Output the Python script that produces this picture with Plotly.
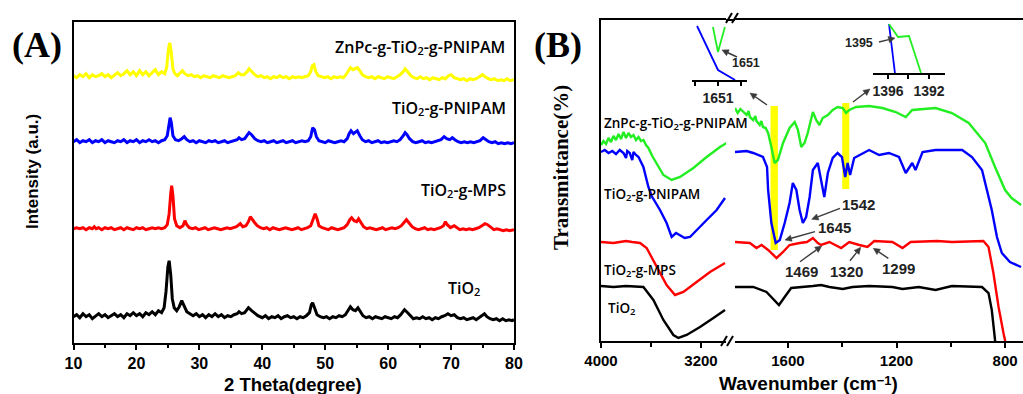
import math
import plotly.graph_objects as go

W, H = 1023, 394
def px(x): return x / W
def py(y): return 1 - y / H

# ---------------- (A) XRD data: 2-theta / intensity above each pattern's baseline ----------------
zn_xrd = [(10.0,1),(10.5,-1),(11.0,2),(11.5,0),(12.0,3),(12.5,-1),(13.0,2),(13.5,0),(14.0,1),(14.5,3),(15.0,0),
          (15.5,2),(16.0,-1),(16.5,2),(17.0,4),(17.5,1),(18.0,3),(18.5,6),(19.0,2),(19.5,5),(20.0,1),(20.5,6),
          (21.0,2),(21.5,5),(22.0,1),(22.5,4),(23.0,7),(23.5,2),(24.0,5),(24.5,3),(24.8,9),(25.1,28),(25.3,34),
          (25.5,26),(25.8,8),(26.1,3),(26.5,1),(27.0,4),(27.3,6),(27.7,3),(28.2,1),(28.7,2),(29.2,0),(29.7,1),
          (30.2,-1),(30.7,1),(31.2,0),(31.7,-1),(32.2,1),(32.7,0),(33.2,-1),(33.7,1),(34.2,0),(34.7,-1),(35.2,0),
          (35.7,1),(36.2,4),(36.6,2),(37.1,2),(37.6,5),(37.9,8),(38.3,5),(38.8,2),(39.3,0),(39.8,1),(40.3,-1),
          (40.8,0),(41.3,-2),(41.8,0),(42.3,-1),(42.8,1),(43.3,-1),(43.8,0),(44.3,-2),(44.8,0),(45.3,-1),(45.8,0),
          (46.3,-1),(46.8,0),(47.3,1),(47.7,5),(47.95,11),(48.2,12),(48.5,5),(48.9,1),(49.4,0),(49.9,-1),(50.4,0),
          (50.9,-2),(51.4,0),(51.9,-1),(52.4,0),(52.9,-1),(53.3,2),(53.7,6),(54.0,9),(54.4,7),(54.8,8),(55.1,9),
          (55.5,6),(55.9,2),(56.4,0),(56.9,-1),(57.4,0),(57.9,-2),(58.4,0),(58.9,-1),(59.4,-2),(59.9,0),(60.4,-1),
          (60.9,-2),(61.4,0),(61.9,2),(62.4,5),(62.7,8),(63.1,5),(63.6,1),(64.1,-1),(64.6,-2),(65.1,0),(65.6,-2),
          (66.1,-1),(66.6,-3),(67.1,-1),(67.6,-2),(68.1,-3),(68.6,-1),(69.1,-2),(69.6,1),(70.0,2),(70.5,-1),
          (71.0,-2),(71.5,-3),(72.0,-2),(72.5,-4),(73.0,-2),(73.5,-3),(74.0,-2),(74.5,0),(75.0,2),(75.4,0),
          (75.9,-2),(76.4,-3),(76.9,-2),(77.4,-4),(77.9,-3),(78.4,-4),(78.9,-2),(79.4,-4),(80.0,-3)]

pn_xrd = [(10.0,0),(10.5,2),(11.0,-1),(11.5,1),(12.0,0),(12.5,2),(13.0,-1),(13.5,1),(14.0,0),(14.5,2),(15.0,-1),
          (15.5,1),(16.0,0),(16.5,-1),(17.0,1),(17.5,0),(18.0,2),(18.5,-1),(19.0,1),(19.5,0),(20.0,2),(20.5,-1),
          (21.0,1),(21.5,0),(22.0,2),(22.5,0),(23.0,1),(23.5,-1),(24.0,1),(24.5,2),(24.9,6),(25.15,18),(25.35,24),
          (25.55,19),(25.8,6),(26.2,2),(26.7,1),(27.2,3),(27.6,5),(28.0,2),(28.5,0),(29.0,1),(29.5,-1),(30.0,1),
          (30.5,0),(31.0,-1),(31.5,1),(32.0,0),(32.5,1),(33.0,-1),(33.5,0),(34.0,1),(34.5,-1),(35.0,0),(35.5,1),
          (36.0,2),(36.3,4),(36.7,2),(37.2,3),(37.6,6),(37.9,9),(38.3,7),(38.8,3),(39.3,1),(39.8,0),(40.3,1),
          (40.8,-1),(41.3,0),(41.8,1),(42.3,-1),(42.8,0),(43.3,1),(43.8,-1),(44.3,0),(44.8,1),(45.3,-1),(45.8,0),
          (46.3,1),(46.8,0),(47.3,1),(47.7,5),(48.0,14),(48.3,12),(48.6,5),(49.0,1),(49.5,0),(50.0,-1),(50.5,1),
          (51.0,0),(51.5,-1),(52.0,0),(52.5,1),(53.0,0),(53.5,3),(53.8,8),(54.1,11),(54.5,8),(54.8,10),(55.1,11),
          (55.5,6),(55.9,2),(56.4,0),(56.9,1),(57.4,-1),(57.9,0),(58.4,1),(58.9,-1),(59.4,0),(59.9,-1),(60.4,0),
          (60.9,1),(61.4,0),(61.9,2),(62.4,6),(62.7,9),(63.0,7),(63.4,3),(63.9,0),(64.4,-1),(64.9,0),(65.4,1),
          (65.9,-1),(66.4,0),(66.9,-1),(67.4,0),(67.9,1),(68.4,2),(68.9,5),(69.3,3),(69.8,2),(70.2,4),(70.6,2),
          (71.1,0),(71.6,-1),(72.1,0),(72.6,-1),(73.1,0),(73.6,-1),(74.1,0),(74.6,1),(75.1,4),(75.5,2),(76.0,0),
          (76.5,-1),(77.0,0),(77.5,-2),(78.0,-1),(78.5,-2),(79.0,-1),(79.5,-2),(80.0,-1)]

mps_xrd = [(10.0,0),(10.5,1),(11.0,0),(11.5,1),(12.0,-1),(12.5,1),(13.0,0),(13.3,2),(13.6,0),(14.0,1),(14.5,-1),
           (15.0,1),(15.5,0),(16.0,1),(16.5,-1),(17.0,0),(17.5,1),(18.0,-1),(18.5,1),(19.0,0),(19.5,-1),(20.0,1),
           (20.5,0),(21.0,1),(21.5,-1),(22.0,0),(22.5,1),(23.0,0),(23.5,1),(24.0,0),(24.5,1),(24.9,4),(25.2,15),
           (25.45,35),(25.6,43),(25.8,33),(26.05,10),(26.4,3),(26.9,1),(27.4,3),(27.7,8),(28.0,4),(28.4,1),(28.9,0),
           (29.4,1),(29.9,-1),(30.4,0),(30.9,1),(31.4,-1),(31.9,0),(32.4,1),(32.9,0),(33.4,-1),(33.9,0),(34.4,1),
           (34.9,0),(35.4,1),(35.9,2),(36.5,5),(36.9,2),(37.4,3),(37.8,7),(38.1,12),(38.4,9),(38.8,6),(39.2,3),
           (39.7,1),(40.2,0),(40.7,1),(41.2,-1),(41.7,1),(42.2,0),(42.7,-1),(43.2,0),(43.7,1),(44.2,0),(44.7,-1),
           (45.2,0),(45.7,1),(46.2,-1),(46.7,0),(47.2,1),(47.7,3),(48.1,10),(48.4,15),(48.7,10),(49.0,3),(49.5,1),
           (50.0,0),(50.5,-1),(51.0,1),(51.5,0),(52.0,-1),(52.5,0),(53.0,1),(53.5,4),(53.9,9),(54.2,11),(54.6,8),
           (55.0,7),(55.3,10),(55.7,6),(56.1,2),(56.6,0),(57.1,1),(57.6,0),(58.1,-1),(58.6,0),(59.1,1),(59.6,-1),
           (60.1,0),(60.6,1),(61.1,0),(61.6,1),(62.1,3),(62.6,7),(62.9,9),(63.3,6),(63.8,2),(64.3,0),(64.8,-1),
           (65.3,0),(65.8,1),(66.3,-1),(66.8,0),(67.3,-1),(67.8,0),(68.3,1),(68.8,3),(69.1,7),(69.4,4),(69.9,1),
           (70.5,3),(70.9,1),(71.4,-1),(71.9,0),(72.4,-1),(72.9,0),(73.4,-1),(73.9,0),(74.4,1),(74.9,3),(75.4,5),
           (75.8,4),(76.3,1),(76.8,-1),(77.3,0),(77.8,-1),(78.3,-2),(78.8,-1),(79.3,-2),(80.0,-1)]

tio2_xrd = [(10.0,0),(10.5,2),(11.0,-1),(11.5,3),(12.0,0),(12.5,2),(13.0,-2),(13.5,1),(14.0,3),(14.5,0),(15.0,2),
            (15.5,-1),(16.0,1),(16.5,3),(17.0,0),(17.5,2),(18.0,-1),(18.5,3),(19.0,1),(19.5,4),(20.0,1),(20.5,3),
            (21.0,0),(21.5,4),(22.0,2),(22.5,5),(23.0,2),(23.5,6),(24.0,4),(24.4,9),(24.7,25),(25.0,50),(25.2,56),
            (25.45,42),(25.7,18),(26.0,9),(26.4,6),(26.8,10),(27.2,16),(27.6,11),(28.0,5),(28.5,3),(29.0,1),(29.5,3),
            (30.0,0),(30.5,2),(31.0,-1),(31.5,2),(32.0,0),(32.5,3),(33.0,0),(33.5,2),(34.0,-1),(34.5,1),(35.0,0),
            (35.5,2),(36.0,3),(36.3,5),(36.7,3),(37.2,4),(37.8,9),(38.3,6),(38.8,3),(39.3,1),(40.0,-1),(40.5,1),
            (41.0,-2),(41.5,0),(42.0,-1),(42.5,1),(43.0,-2),(43.5,0),(44.0,1),(44.5,-1),(45.0,0),(45.5,-2),(46.0,0),
            (46.5,-1),(47.0,1),(47.5,4),(47.8,12),(48.0,14),(48.3,9),(48.7,2),(49.2,0),(49.7,-1),(50.2,0),(50.7,-2),
            (51.2,0),(51.7,-1),(52.2,1),(52.7,0),(53.2,2),(53.6,6),(54.0,10),(54.4,7),(54.8,6),(55.2,9),(55.6,5),
            (56.0,1),(56.5,-1),(57.0,0),(57.5,-2),(58.0,0),(58.5,-1),(59.0,-2),(59.5,0),(60.0,-1),(60.5,-2),(61.0,0),
            (61.5,-1),(62.0,2),(62.6,7),(63.1,4),(63.6,0),(64.0,-2),(64.5,-1),(65.0,-2),(65.5,0),(66.0,-2),(66.5,-1),
            (67.0,-3),(67.5,-1),(68.0,-2),(68.5,0),(69.0,1),(69.5,3),(70.0,1),(70.5,2),(71.0,-1),(71.5,-2),(72.0,-1),
            (72.5,-3),(73.0,-2),(73.5,-1),(74.0,-3),(74.5,-1),(75.0,1),(75.3,3),(75.7,0),(76.2,-2),(76.7,-3),
            (77.2,-2),(77.7,-4),(78.2,-2),(78.7,-4),(79.2,-3),(79.7,-4),(80.0,-3)]

xrd_offsets = {"zn": 266, "pn": 201, "mps": 114, "tio2": 26}

# ---------------- (B) FTIR data: wavenumber / transmittance (a.u.) ----------------
zn_ftir_hi = [(4000,196),(3980,200),(3960,197),(3940,203),(3920,199),(3900,205),(3880,201),(3860,207),(3840,202),
              (3820,209),(3800,203),(3780,208),(3760,204),(3740,206),(3720,201),(3700,204),(3680,200),(3660,201),
              (3640,196),(3621,193),(3590,185),(3555,178),(3501,166),(3435,161),(3368,164),(3261,173),(3155,184),
              (3048,194),(2995,198)]
zn_ftir_lo = [(1795,233),(1785,228),(1775,232),(1765,229),(1752,226),(1745,230),(1740,224),(1728,221),(1720,225),
              (1716,220),(1704,216),(1698,220),(1692,214),(1682,213),(1673,208),(1661,194),(1649,178),(1637,181),
              (1618,198),(1594,213),(1575,219),(1563,211),(1551,194),(1539,198),(1527,208),(1508,229),(1496,221),
              (1484,216),(1472,223),(1453,226),(1435,231),(1417,234),(1398,233),(1386,228),(1374,231),(1349,234),
              (1301,235),(1252,233),(1203,229),(1166,224),(1142,231),(1056,233),(996,228),(934,218),(873,198),
              (837,174),(800,151),(776,143),(741,136)]

pn_ftir_hi = [(4000,189),(3970,191),(3940,188),(3910,190),(3880,187),(3850,191),(3820,188),(3800,183),(3790,190),
              (3770,188),(3750,181),(3740,189),(3720,186),(3700,184),(3661,174),(3621,154),(3595,145),(3528,131),
              (3475,118),(3435,104),(3400,108),(3368,106),(3330,103),(3288,104),(3235,111),(3155,121),(3075,131),
              (3008,143)]
pn_ftir_lo = [(1795,189),(1752,190),(1728,188),(1692,184),(1677,174),(1673,151),(1661,118),(1645,98),(1630,101),
              (1612,118),(1594,138),(1582,158),(1569,151),(1557,131),(1545,118),(1533,124),(1520,144),(1508,171),
              (1490,178),(1478,161),(1466,144),(1453,168),(1435,183),(1417,188),(1401,184),(1389,164),(1380,178),
              (1371,166),(1356,183),(1301,191),(1264,186),(1228,188),(1191,184),(1166,168),(1142,178),(1130,171),
              (1104,189),(1056,191),(958,191),(922,184),(885,171),(867,151),(849,131),(830,104),(812,88),(782,79),
              (741,74)]

mps_ftir_hi = [(4000,99),(3900,98),(3850,99),(3800,100),(3750,99),(3688,98),(3635,93),(3555,74),(3475,56),
               (3408,46),(3341,49),(3235,59),(3128,69),(3008,78)]
mps_ftir_lo = [(1795,99),(1740,98),(1716,93),(1697,96),(1673,91),(1642,83),(1618,89),(1594,96),(1557,98),(1530,99),
               (1508,103),(1490,98),(1478,96),(1447,99),(1404,93),(1374,99),(1337,96),(1307,94),(1282,100),
               (1215,99),(1178,93),(1148,99),(1050,100),(996,99),(880,100),(861,94),(843,68),(824,34),(806,8),(798,-2)]

tio2_ftir_hi = [(4000,55),(3900,54),(3800,55),(3661,54),(3581,41),(3501,21),(3421,6),(3381,3),(3315,6),(3208,14),
                (3101,23),(3008,31)]
tio2_ftir_lo = [(1795,54),(1728,54),(1679,49),(1649,41),(1633,36),(1612,44),(1588,53),(1508,55),(1478,56),
                (1447,54),(1398,52),(1362,54),(1301,55),(1215,54),(1178,52),(1118,54),(1056,51),(996,55),(885,54),
                (861,48),(849,31),(837,1),(834,-5)]

# highlighted bands (wavenumber range, transmittance range)
bands = [((1664, 1637), (91, 235)), ((1400, 1374), (152, 238))]

# insets (zoomed views)
inset1_pn = [(1651.91,54),(1651.0,10),(1650.26,0)]
inset1_zn = [(1651.22,53),(1651.0,28),(1650.70,53)]
inset2_pn = [(1395.9,49),(1395.32,0)]
inset2_zn = [(1395.9,49),(1395.02,36),(1393.95,37),(1393.17,13),(1392.78,0)]

C_YEL, C_BLU, C_RED, C_BLK, C_GRN = "#ffff00", "#0000ff", "#ff0000", "#000000", "#22ee22"

fig = go.Figure()

def add(pts, color, xa, ya, width=2.6, offset=0):
    fig.add_trace(go.Scatter(x=[p[0] for p in pts], y=[p[1] + offset for p in pts], mode="lines",
                             line=dict(color=color, width=width), xaxis=xa, yaxis=ya,
                             hoverinfo="skip", showlegend=False))

add(zn_xrd, C_YEL, "x", "y", 3, xrd_offsets["zn"])
add(pn_xrd, C_BLU, "x", "y", 3, xrd_offsets["pn"])
add(mps_xrd, C_RED, "x", "y", 3, xrd_offsets["mps"])
add(tio2_xrd, C_BLK, "x", "y", 3, xrd_offsets["tio2"])

for hi, lo, c in [(zn_ftir_hi, zn_ftir_lo, C_GRN), (pn_ftir_hi, pn_ftir_lo, C_BLU),
                  (mps_ftir_hi, mps_ftir_lo, C_RED), (tio2_ftir_hi, tio2_ftir_lo, C_BLK)]:
    add(hi, c, "x2", "y2", 2.4)
    add(lo, c, "x3", "y2", 2.4)

add(inset1_pn, C_BLU, "x4", "y4", 1.8)
add(inset1_zn, C_GRN, "x4", "y4", 1.8)
add(inset2_pn, C_BLU, "x5", "y5", 1.8)
add(inset2_zn, C_GRN, "x5", "y5", 1.8)

def tf(size, color="black"):
    return dict(family="Liberation Sans, Arial", size=size, color=color, weight="bold")

base_x = dict(showline=True, linewidth=2, linecolor="black", ticks="outside", ticklen=5, tickwidth=2,
              tickcolor="black", showgrid=False, zeroline=False, fixedrange=True, automargin=False)
base_y = dict(showgrid=False, zeroline=False, ticks="", showticklabels=False, automargin=False, fixedrange=True)

fig.update_layout(
    width=W, height=H, margin=dict(l=0, r=0, t=0, b=0, pad=0), autosize=False,
    paper_bgcolor="white", plot_bgcolor="white", showlegend=False,
    xaxis=dict(base_x, domain=[px(73.5), px(514)], range=[10, 80], tickvals=[10,20,30,40,50,60,70,80],
               mirror=True, anchor="y", tickfont=tf(16),
               minor=dict(tickvals=[15,25,35,45,55,65,75], ticks="outside", ticklen=3, tickwidth=2, tickcolor="black")),
    yaxis=dict(base_y, domain=[py(342.7), py(21.7)], range=[0, 321], showline=True, linewidth=2,
               linecolor="black", mirror=True, anchor="x"),
    xaxis2=dict(base_x, domain=[px(601), px(726)], range=[4000, 3000], tickvals=[4000, 3200], anchor="y2",
                mirror=True, tickfont=tf(15),
                minor=dict(tickvals=[3600], ticks="outside", ticklen=4, tickwidth=2, tickcolor="black")),
    xaxis3=dict(base_x, domain=[px(735), 1.0], range=[1795, 734], tickvals=[1600, 1200, 800], anchor="y2",
                mirror=True, tickfont=tf(15),
                minor=dict(tickvals=[1400, 1000], ticks="outside", ticklen=4, tickwidth=2, tickcolor="black")),
    yaxis2=dict(base_y, domain=[py(341), py(20)], range=[0, 321], showline=True, linewidth=2,
                linecolor="black", anchor="x2"),
    xaxis4=dict(base_x, domain=[px(692), px(747)], range=[1652.13, 1649.74], tickvals=[1651],
                ticklen=4, anchor="y4", tickfont=tf(14, "#222"),
                minor=dict(tickvals=[1652, 1650], ticks="outside", ticklen=4, tickwidth=2, tickcolor="black")),
    yaxis4=dict(base_y, domain=[py(80), py(20)], range=[0, 60], visible=False, anchor="x4"),
    xaxis5=dict(base_x, domain=[px(873), px(945)], range=[1397.46, 1390.44], tickvals=[1396, 1392],
                ticklen=4, anchor="y5", tickfont=tf(14, "#222"),
                minor=dict(tickvals=[1394], ticks="outside", ticklen=4, tickwidth=2, tickcolor="black")),
    yaxis5=dict(base_y, domain=[py(73), py(20)], range=[0, 53], visible=False, anchor="x5"),
)

# highlighted yellow bands
for (x0, x1), (y0, y1) in bands:
    fig.add_shape(type="rect", xref="x3", yref="y2", x0=x0, x1=x1, y0=y0, y1=y1,
                  fillcolor=C_YEL, line=dict(width=0), layer="below")

# top border bridging the axis break, and break marks
fig.add_shape(type="line", xref="paper", yref="paper", x0=px(726), x1=px(735), y0=py(20), y1=py(20),
              line=dict(color="black", width=2))
for bx, by in [(726, 18), (721, 341)]:
    for dx in (0, 6):
        fig.add_shape(type="line", xref="paper", yref="paper",
                      x0=px(bx + dx), y0=py(by + 5), x1=px(bx + dx + 6), y1=py(by - 5),
                      line=dict(color="black", width=2))

def text(x, y, s, size=14, family="Liberation Sans, Arial", weight="bold", xanchor="center", angle=0, color="black"):
    fig.add_annotation(x=px(x), y=py(y), xref="paper", yref="paper", text=s, showarrow=False,
                       xanchor=xanchor, yanchor="middle", textangle=angle,
                       font=dict(family=family, size=size, color=color, weight=weight))

def arrow(hx, hy, tx, ty, L=6.5, hw=3.2, color="#3a3a3a"):
    dx, dy = hx - tx, hy - ty
    n = math.hypot(dx, dy)
    ux, uy = dx / n, dy / n
    bx, by = hx - ux * L, hy - uy * L
    fig.add_shape(type="line", xref="paper", yref="paper", x0=px(tx), y0=py(ty), x1=px(bx), y1=py(by),
                  line=dict(color=color, width=1.4))
    p1 = (bx - uy * hw, by + ux * hw)
    p2 = (bx + uy * hw, by - ux * hw)
    path = "M {},{} L {},{} L {},{} Z".format(px(hx), py(hy), px(p1[0]), py(p1[1]), px(p2[0]), py(p2[1]))
    fig.add_shape(type="path", xref="paper", yref="paper", path=path, fillcolor=color,
                  line=dict(color=color, width=0.5))

def sub(s, size):
    return '<span style="font-size:{}px;baseline-shift:-22%">{}</span>'.format(size, s)

serif = "Liberation Serif, Times New Roman"
text(37, 45, "(A)", 36, serif)
text(558, 45, "(B)", 36, serif)
text(32, 172, "Intensity (a.u.)", 17, angle=-90)
text(293, 384, "2 Theta(degree)", 18.5)
text(561, 168, "Transmittance(%)", 21, serif, angle=-90)
text(808, 383, "Wavenumber (cm" + '<span style="font-size:13px;baseline-shift:40%">−1</span>' + ")", 19)

lab = dict(family="Open Sans, Noto Sans", weight=600)
sa, sb = sub("2", 11), sub("2", 9.5)
text(507, 47, "ZnPc-g-TiO" + sa + "-g-PNIPAM", 16, xanchor="right", **lab)
text(508, 108, "TiO" + sa + "-g-PNIPAM", 16, xanchor="right", **lab)
text(508, 190, "TiO" + sa + "-g-MPS", 16, xanchor="right", **lab)
text(464, 288, "TiO" + sa, 16, **lab)

text(602, 123, "ZnPc-g-TiO" + sb + "-g-PNIPAM", 13.5, xanchor="left", **lab)
text(602, 194, "TiO" + sb + "-g-PNIPAM", 13.5, xanchor="left", **lab)
text(602, 270, "TiO" + sb + "-g-MPS", 13.5, xanchor="left", **lab)
text(606, 308, "TiO" + sb, 13.5, xanchor="left", **lab)

text(858, 205, "1542", 15, color="#222")
text(834, 228, "1645", 15, color="#222")
text(801, 271, "1469", 15, color="#222")
text(846, 271, "1320", 15, color="#222")
text(898, 268, "1299", 15, color="#222")
text(746, 63, "1651", 12.5, color="#222")
text(859, 43, "1395", 12.5, color="#222")

arrow(811.7, 219.3, 840, 208.3)
arrow(785, 240, 815, 231.7)
arrow(821.7, 246, 800, 261.7)
arrow(860.7, 247.3, 850, 260.7)
arrow(873.3, 248.3, 888.3, 258.3)
arrow(750, 93, 767, 105)
arrow(870, 89, 853, 102)
arrow(722, 50, 737, 57)
arrow(895, 38, 879, 42)

fig.write_html("out.html")
